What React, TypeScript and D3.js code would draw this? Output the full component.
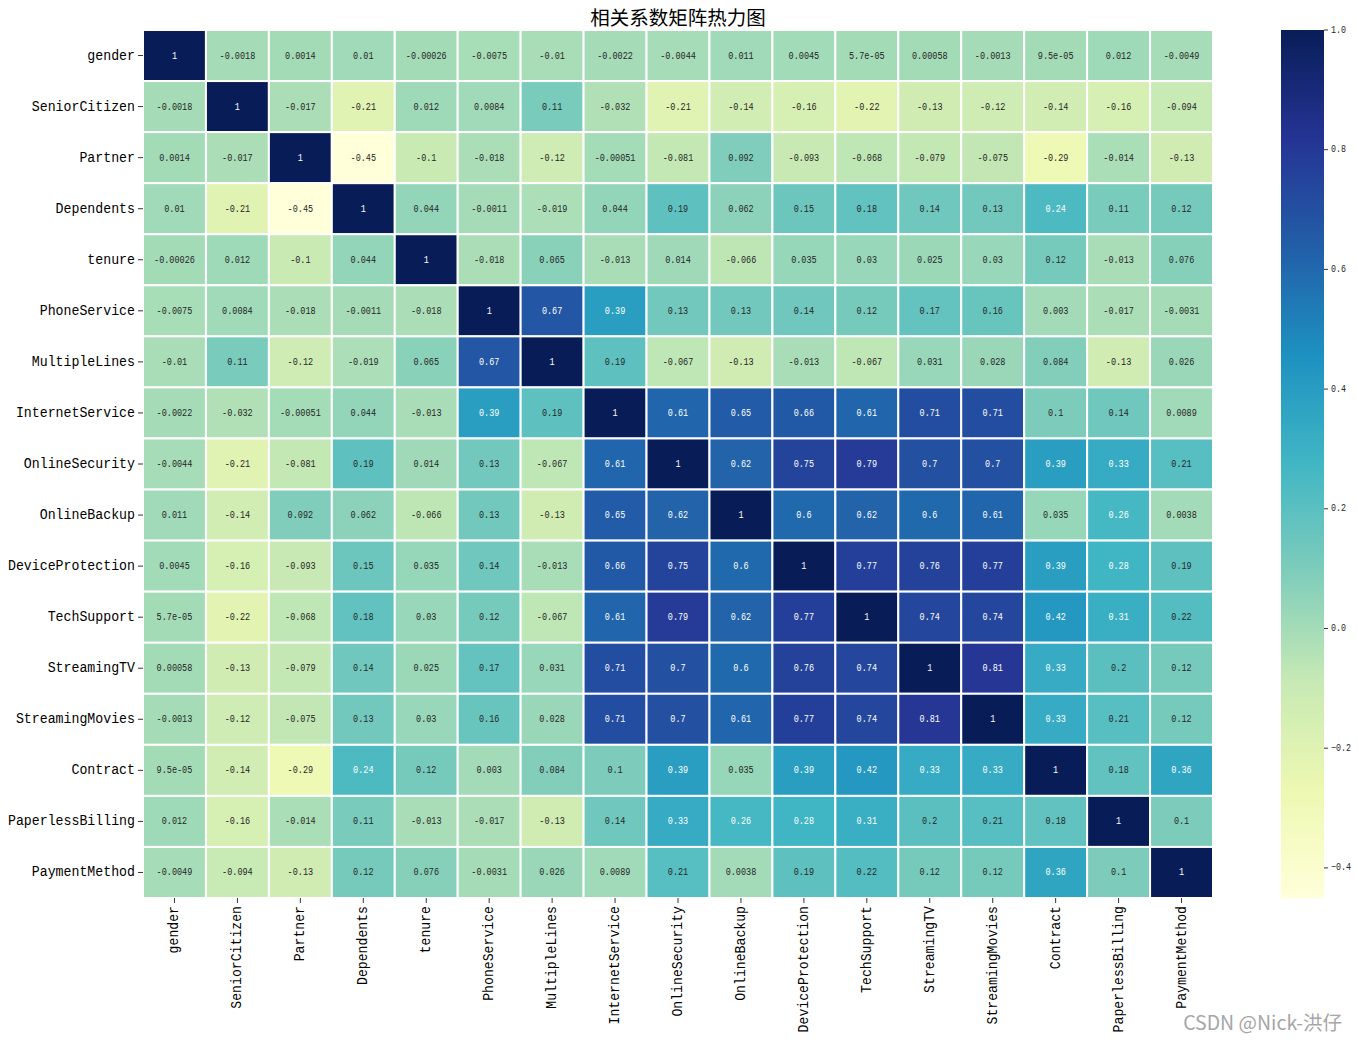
import React from "react";
import * as d3 from "d3";

const labels = [
  "gender", "SeniorCitizen", "Partner", "Dependents", "tenure", "PhoneService",
  "MultipleLines", "InternetService", "OnlineSecurity", "OnlineBackup",
  "DeviceProtection", "TechSupport", "StreamingTV", "StreamingMovies",
  "Contract", "PaperlessBilling", "PaymentMethod",
];

const corr: number[][] = [
  [1, -0.0018, 0.0014, 0.01, -0.00026, -0.0075, -0.01, -0.0022, -0.0044, 0.011, 0.0045, 5.7e-05, 0.00058, -0.0013, 9.5e-05, 0.012, -0.0049],
  [-0.0018, 1, -0.017, -0.21, 0.012, 0.0084, 0.11, -0.032, -0.21, -0.14, -0.16, -0.22, -0.13, -0.12, -0.14, -0.16, -0.094],
  [0.0014, -0.017, 1, -0.4503, -0.1, -0.018, -0.12, -0.00051, -0.081, 0.092, -0.093, -0.068, -0.079, -0.075, -0.29, -0.014, -0.13],
  [0.01, -0.21, -0.4503, 1, 0.044, -0.0011, -0.019, 0.044, 0.19, 0.062, 0.15, 0.18, 0.14, 0.13, 0.24, 0.11, 0.12],
  [-0.00026, 0.012, -0.1, 0.044, 1, -0.018, 0.065, -0.013, 0.014, -0.066, 0.035, 0.03, 0.025, 0.03, 0.12, -0.013, 0.076],
  [-0.0075, 0.0084, -0.018, -0.0011, -0.018, 1, 0.67, 0.39, 0.13, 0.13, 0.14, 0.12, 0.17, 0.16, 0.003, -0.017, -0.0031],
  [-0.01, 0.11, -0.12, -0.019, 0.065, 0.67, 1, 0.19, -0.067, -0.13, -0.013, -0.067, 0.031, 0.028, 0.084, -0.13, 0.026],
  [-0.0022, -0.032, -0.00051, 0.044, -0.013, 0.39, 0.19, 1, 0.61, 0.65, 0.66, 0.61, 0.71, 0.71, 0.1, 0.14, 0.0089],
  [-0.0044, -0.21, -0.081, 0.19, 0.014, 0.13, -0.067, 0.61, 1, 0.62, 0.75, 0.79, 0.7, 0.7, 0.39, 0.33, 0.21],
  [0.011, -0.14, 0.092, 0.062, -0.066, 0.13, -0.13, 0.65, 0.62, 1, 0.6, 0.62, 0.6, 0.61, 0.035, 0.26, 0.0038],
  [0.0045, -0.16, -0.093, 0.15, 0.035, 0.14, -0.013, 0.66, 0.75, 0.6, 1, 0.77, 0.76, 0.77, 0.39, 0.28, 0.19],
  [5.7e-05, -0.22, -0.068, 0.18, 0.03, 0.12, -0.067, 0.61, 0.79, 0.62, 0.77, 1, 0.74, 0.74, 0.42, 0.31, 0.22],
  [0.00058, -0.13, -0.079, 0.14, 0.025, 0.17, 0.031, 0.71, 0.7, 0.6, 0.76, 0.74, 1, 0.81, 0.33, 0.2, 0.12],
  [-0.0013, -0.12, -0.075, 0.13, 0.03, 0.16, 0.028, 0.71, 0.7, 0.61, 0.77, 0.74, 0.81, 1, 0.33, 0.21, 0.12],
  [9.5e-05, -0.14, -0.29, 0.24, 0.12, 0.003, 0.084, 0.1, 0.39, 0.035, 0.39, 0.42, 0.33, 0.33, 1, 0.18, 0.36],
  [0.012, -0.16, -0.014, 0.11, -0.013, -0.017, -0.13, 0.14, 0.33, 0.26, 0.28, 0.31, 0.2, 0.21, 0.18, 1, 0.1],
  [-0.0049, -0.094, -0.13, 0.12, 0.076, -0.0031, 0.026, 0.0089, 0.21, 0.0038, 0.19, 0.22, 0.12, 0.12, 0.36, 0.1, 1],
];

const colorbarTicks = [-0.4, -0.2, 0.0, 0.2, 0.4, 0.6, 0.8, 1.0];

const title = "相关系数矩阵热力图";
const watermark = "CSDN @Nick-洪仔";

// matplotlib YlGnBu
const ylgnbu = ["#ffffd9", "#edf8b1", "#c7e9b4", "#7fcdbb", "#41b6c4", "#1d91c0", "#225ea8", "#253494", "#081d58"];

const W = 1358, H = 1041;
const left = 143, right = 1213, top = 30, bottom = 898;
const cbX = 1281, cbW = 43;
const MONO = "'Liberation Mono', 'DejaVu Sans Mono', monospace";
const CJK = "'Noto Sans CJK SC', 'Noto Sans', sans-serif";

function fmt(v: number): string {
  if (v === 0) return "0";
  const e = Math.floor(Math.log10(Math.abs(v)));
  if (e < -4) {
    const s = v.toExponential(1);
    const [m, ex] = s.split("e");
    const sign = ex[0] === "-" ? "-" : "+";
    const digits = ex.replace(/^[+-]/, "").padStart(2, "0");
    return `${m}e${sign}${digits}`;
  }
  return String(Number(v.toPrecision(2)));
}

function luminance(c: string): number {
  const rgb = d3.rgb(c);
  const lin = [rgb.r, rgb.g, rgb.b].map((x) => {
    const v = x / 255;
    return v <= 0.03928 ? v / 12.92 : Math.pow((v + 0.055) / 1.055, 2.4);
  });
  return 0.2126 * lin[0] + 0.7152 * lin[1] + 0.0722 * lin[2];
}

export default function App() {
  const flat = corr.flat();
  const [vmin, vmax] = d3.extent(flat) as [number, number];
  const x = d3.scaleBand<string>().domain(labels).range([left, right]);
  const y = d3.scaleBand<string>().domain(labels).range([top, bottom]);
  const stops = ylgnbu.map((_, i) => vmin + ((vmax - vmin) * i) / (ylgnbu.length - 1));
  const color = d3.scaleLinear<string>().domain(stops).range(ylgnbu).interpolate(d3.interpolateRgb).clamp(true);
  const cy = d3.scaleLinear().domain([vmin, vmax]).range([bottom, top]);

  const gradStops = d3.range(0, 1.0001, 1 / 64).map((t) => ({ t, c: color(vmin + t * (vmax - vmin)) }));

  const bw = x.bandwidth();
  const bh = y.bandwidth();

  return (
    <svg width={W} height={H} style={{ position: "absolute", left: 0, top: 0, background: "#fff" }}>
      <defs>
        <linearGradient id="cb" x1="0" y1="1" x2="0" y2="0">
          {gradStops.map((s, i) => (
            <stop key={i} offset={s.t} stopColor={s.c} />
          ))}
        </linearGradient>
      </defs>
      <rect width={W} height={H} fill="#fff" />
      <text x={(left + right) / 2} y={25} textAnchor="middle" fontFamily={CJK} fontSize={19.5} fill="#000">
        {title}
      </text>

      {corr.map((row, i) =>
        row.map((v, j) => {
          const c = color(v);
          const tc = luminance(c) > 0.408 ? "#262626" : "#ffffff";
          const s = fmt(v);
          return (
            <g key={`${i}-${j}`}>
              <rect x={x(labels[j])!} y={y(labels[i])!} width={bw} height={bh} fill={c} stroke="#fff" strokeWidth={2} />
              <text
                x={x(labels[j])! + bw / 2}
                y={y(labels[i])! + bh / 2}
                textAnchor="middle"
                dominantBaseline="central"
                fontFamily={MONO}
                fontSize={10.5}
                fill={tc}
                textLength={s.length * 5.1}
                lengthAdjust="spacingAndGlyphs"
              >
                {s}
              </text>
            </g>
          );
        })
      )}

      {labels.map((l) => {
        const yc = y(l)! + bh / 2;
        return (
          <g key={`yl-${l}`}>
            <line x1={left - 5} x2={left} y1={yc} y2={yc} stroke="#000" strokeWidth={0.8} />
            <text
              x={left - 8}
              y={yc}
              textAnchor="end"
              dominantBaseline="central"
              fontFamily={MONO}
              fontSize={15.5}
              fill="#000"
              textLength={l.length * 7.94}
              lengthAdjust="spacingAndGlyphs"
            >
              {l}
            </text>
          </g>
        );
      })}

      {labels.map((l) => {
        const xc = x(l)! + bw / 2;
        return (
          <g key={`xl-${l}`}>
            <line x1={xc} x2={xc} y1={bottom} y2={bottom + 5} stroke="#000" strokeWidth={0.8} />
            <text
              transform={`translate(${xc},${bottom + 8}) rotate(-90)`}
              textAnchor="end"
              dominantBaseline="central"
              fontFamily={MONO}
              fontSize={15.5}
              fill="#000"
              textLength={l.length * 7.9}
              lengthAdjust="spacingAndGlyphs"
            >
              {l}
            </text>
          </g>
        );
      })}

      <rect x={cbX} y={top} width={cbW} height={bottom - top} fill="url(#cb)" />
      {colorbarTicks.map((t) => {
        const s = d3.format(".1f")(t).replace("-", "−");
        return (
          <g key={`cb-${t}`}>
            <line x1={cbX + cbW} x2={cbX + cbW + 4} y1={cy(t)} y2={cy(t)} stroke="#000" strokeWidth={0.8} />
            <text
              x={cbX + cbW + 7}
              y={cy(t)}
              dominantBaseline="central"
              fontFamily={MONO}
              fontSize={10}
              fill="#262626"
              textLength={s.length * 5}
              lengthAdjust="spacingAndGlyphs"
            >
              {s}
            </text>
          </g>
        );
      })}

      <text x={1342} y={1030} textAnchor="end" fontFamily={CJK} fontSize={19.5} fill="#a6a6a6">
        {watermark}
      </text>
    </svg>
  );
}
